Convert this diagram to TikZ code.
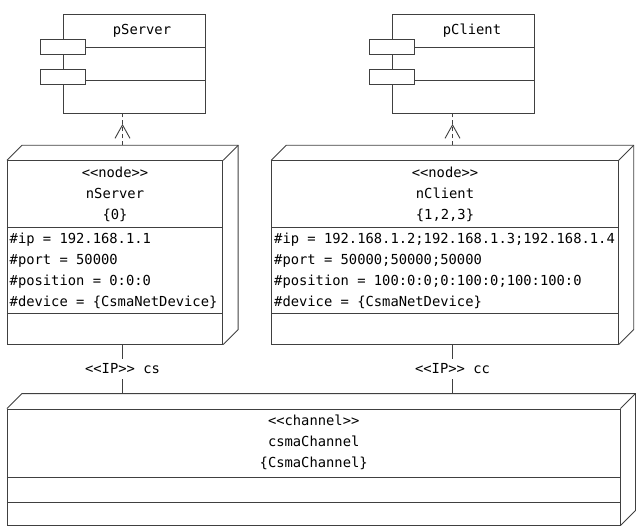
\documentclass[tikz,border=0pt]{standalone}
\usepackage{fontspec}
\setmonofont{DejaVu Sans Mono}
\usetikzlibrary{arrows.meta,decorations.markings}

\tikzset{
    uml/.style={draw=black!75, line width=0.9pt},
    comp/.style={uml, minimum width=142pt, minimum height=99pt},
    port/.style={uml, fill=white, minimum width=45.5pt, minimum height=15pt},
    front/.style={uml, fill=white},
    txt/.style={align=center, inner sep=0pt},
    attr/.style={align=left, anchor=west, inner sep=0pt},
    iplabel/.style={fill=white, inner xsep=2pt, inner ysep=5pt},
    realize/.style={uml, dash pattern=on 4pt off 3pt, postaction={decorate},
        decoration={markings, mark=at position -10.5pt with
            {\arrow{Straight Barb[length=13.5pt, width=15pt, line width=0.9pt]}}}},
}

\begin{document}
\begin{tikzpicture}[x=1pt, y=-1pt, font=\ttfamily\fontsize{13.8}{21}\selectfont]
    \useasboundingbox (0,0) rectangle (637,526);

    % components
    \node[comp] (pServer) at (134.2,63.5) {};
    \node[comp] (pClient) at (463.3,63.5) {};
    \foreach \c in {pServer, pClient} {
        \draw[uml] (\c.west |- 0,47.3) -- (\c.east |- 0,47.3);
        \draw[uml] (\c.west |- 0,80) -- (\c.east |- 0,80);
        \node[port] (\c p1) at (\c.west |- 0,46.8) {};
        \node[port] (\c p2) at (\c.west |- 0,76.8) {};
    }
    \node[txt] (pServerName) at (142,31) {pServer};
    \node[txt] (pClientName) at (472,31) {pClient};

    % deployment nodes
    \node[front, minimum width=215.4pt, minimum height=183.3pt] (nServer) at (115,252.4) {};
    \node[front, minimum width=346.6pt, minimum height=183.3pt] (nClient) at (445,252.4) {};
    \node[front, minimum width=612.7pt, minimum height=116pt] (csma) at (313.7,467) {};
    \foreach \n in {nServer, nClient, csma} {
        \draw[uml] (\n.north west) -- ++(15,-15) -| ([shift={(15,-15)}]\n.south east) -- (\n.south east);
        \draw[uml] (\n.north east) -- ++(15,-15);
    }

    \draw[uml] (nServer.west |- 0,227.3) -- (nServer.east |- 0,227.3);
    \draw[uml] (nServer.west |- 0,313.3) -- (nServer.east |- 0,313.3);
    \draw[uml] (nClient.west |- 0,227.3) -- (nClient.east |- 0,227.3);
    \draw[uml] (nClient.west |- 0,313.3) -- (nClient.east |- 0,313.3);
    \draw[uml] (csma.west |- 0,477) -- (csma.east |- 0,477);
    \draw[uml] (csma.west |- 0,502) -- (csma.east |- 0,502);

    \node[txt] (nServerTitle) at (115,194.5) {<<node>>\\nServer\\\{0\}};
    \node[attr] (nServerAttr) at (9.5,270.5) {\#ip = 192.168.1.1\\\#port = 50000\\\#position = 0:0:0\\\#device = \{CsmaNetDevice\}};
    \node[txt] (nClientTitle) at (445,194.5) {<<node>>\\nClient\\\{1,2,3\}};
    \node[attr] (nClientAttr) at (274,270.5) {\#ip = 192.168.1.2;192.168.1.3;192.168.1.4\\\#port = 50000;50000;50000\\\#position = 100:0:0;0:100:0;100:100:0\\\#device = \{CsmaNetDevice\}};
    \node[txt] (csmaTitle) at (313.7,442.7) {<<channel>>\\csmaChannel\\\{CsmaChannel\}};

    % connectors
    \coordinate (nServerTop) at ([shift={(7.5,-15)}]nServer.north);
    \coordinate (nClientTop) at ([shift={(7.5,-15)}]nClient.north);
    \coordinate (nServerBot) at ([xshift=7.5pt]nServer.south);
    \coordinate (nClientBot) at ([xshift=7.5pt]nClient.south);
    \coordinate (csmaTop) at ([yshift=15pt]csma.north);

    \draw[realize] (nServerTop) -- (nServerTop |- pServer.south);
    \draw[realize] (nClientTop) -- (nClientTop |- pClient.south);
    \draw[uml] (nServerBot) -- node[iplabel]{<<IP>> cs} (nServerBot |- csmaTop);
    \draw[uml] (nClientBot) -- node[iplabel]{<<IP>> cc} (nClientBot |- csmaTop);
\end{tikzpicture}
\end{document}
